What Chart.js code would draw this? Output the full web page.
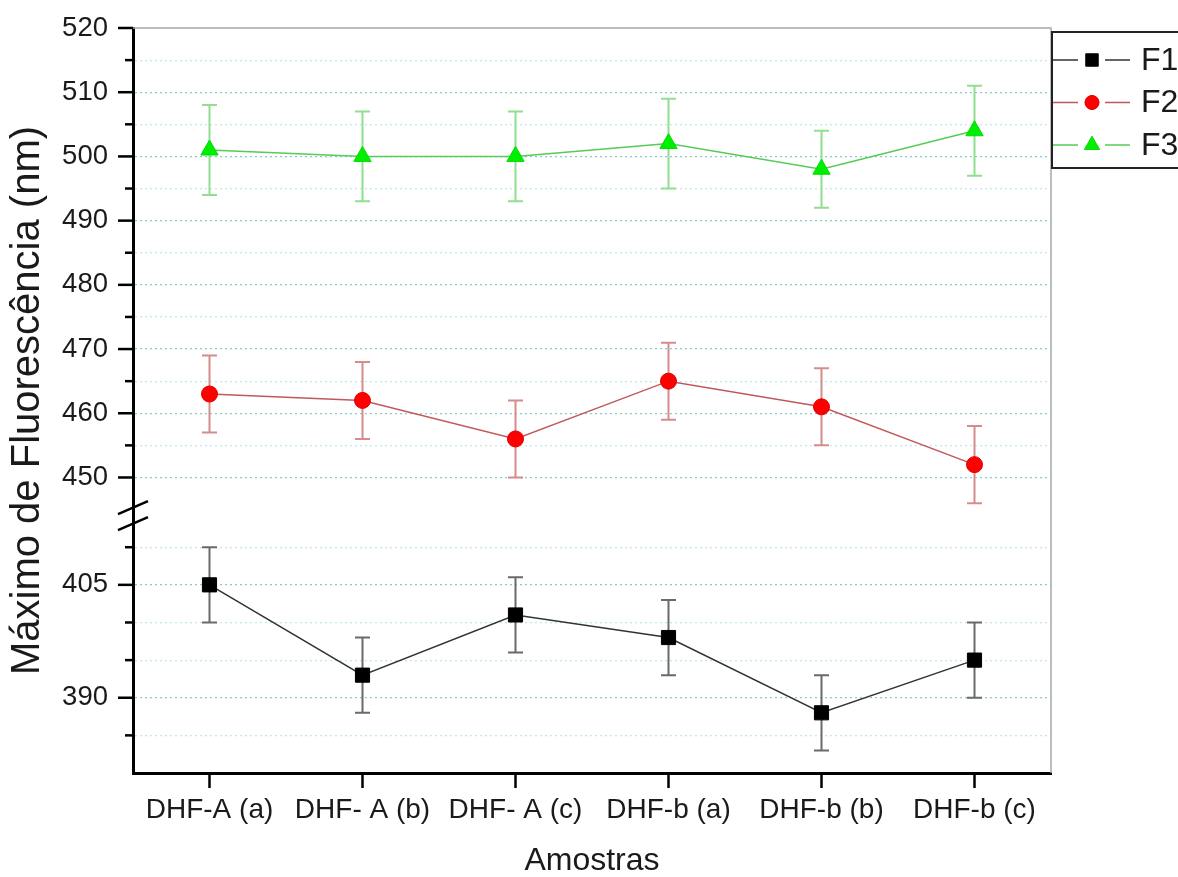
<!DOCTYPE html>
<html>
<head>
<meta charset="utf-8">
<title>Máximo de Fluorescência</title>
<script src="https://cdn.jsdelivr.net/npm/chart.js@4.4.1/dist/chart.umd.min.js"></script>
<style>
  html, body { margin: 0; padding: 0; background: #fff; }
  #wrap { width: 1178px; height: 877px; position: relative; }
</style>
</head>
<body>
<div id="wrap"><canvas id="fluorChart"></canvas></div>
<script>
const categories = ['DHF-A (a)', 'DHF- A (b)', 'DHF- A (c)', 'DHF-b (a)', 'DHF-b (b)', 'DHF-b (c)'];
const f1Values = [405, 393, 401, 398, 388, 395];
const f1Errors = [5, 5, 5, 5, 5, 5];
const f2Values = [463, 462, 456, 465, 461, 452];
const f2Errors = [6, 6, 6, 6, 6, 6];
const f3Values = [501, 500, 500, 502, 498, 504];
const f3Errors = [7, 7, 7, 7, 6, 7];

// broken y axis: two stacked segments
const upperRange = [445, 520];
const lowerRange = [380, 415];
const upperMajor = 10;
const lowerMajor = 15;

const FONT = "'Liberation Sans', Arial, sans-serif";
const INK = '#1a1a1a';

const segmentAxis = (range, major, weight) => ({
    type: 'linear',
    position: 'left',
    stack: 'y',
    stackWeight: weight,
    weight: 0,
    min: range[0],
    max: range[1],
    afterFit: (scale) => {
        scale.width = 81;
        // labels at the ends may overhang, the layout padding covers them
        scale.paddingTop = 0;
        scale.paddingBottom = 0;
    },
    border: { display: true, color: '#000', width: 3, dash: [2, 3] },
    grid: {
        drawTicks: false,
        lineWidth: 1.2,
        color: (ctx) => {
            const v = ctx.tick ? ctx.tick.value : range[0];
            if (v <= range[0] || v >= range[1]) return 'rgba(0,0,0,0)';
            return v % major === 0 ? '#8ccaca' : '#c2e8e8';
        }
    },
    ticks: {
        stepSize: 5,
        autoSkip: false,
        padding: 25,
        color: INK,
        font: { family: FONT, size: 27.5 },
        callback: (v) => (v % major === 0 && v > range[0]) ? v : ''
    }
});

// error bars, frame, y tick marks, axis break and legend
const decorations = {
    id: 'decorations',
    beforeDatasetsDraw(chart) {
        const { ctx } = chart;
        chart.data.datasets.forEach((ds, i) => {
            const meta = chart.getDatasetMeta(i);
            const yScale = chart.scales[ds.yAxisID];
            ctx.save();
            ctx.strokeStyle = ds.errorColor;
            ctx.lineWidth = 2;
            meta.data.forEach((pt, j) => {
                const hi = yScale.getPixelForValue(ds.data[j] + ds.errors[j]);
                const lo = yScale.getPixelForValue(ds.data[j] - ds.errors[j]);
                ctx.beginPath();
                ctx.moveTo(pt.x, hi); ctx.lineTo(pt.x, lo);
                ctx.moveTo(pt.x - 7.5, hi); ctx.lineTo(pt.x + 7.5, hi);
                ctx.moveTo(pt.x - 7.5, lo); ctx.lineTo(pt.x + 7.5, lo);
                ctx.stroke();
            });
            ctx.restore();
        });
    },
    afterDraw(chart) {
        const { ctx, chartArea: a } = chart;
        ctx.save();

        // thin frame on top and right
        ctx.strokeStyle = '#a8a8a8';
        ctx.lineWidth = 1.5;
        ctx.beginPath();
        ctx.moveTo(a.left, a.top); ctx.lineTo(a.right, a.top); ctx.lineTo(a.right, a.bottom);
        ctx.stroke();

        // y tick marks, long for labelled values
        ctx.strokeStyle = '#000';
        ctx.lineWidth = 2.5;
        [['yTop', upperRange, upperMajor], ['yBot', lowerRange, lowerMajor]].forEach(([id, range, major]) => {
            const s = chart.scales[id];
            s.ticks.forEach((t) => {
                const v = t.value;
                const isMajor = v % major === 0;
                if (v <= range[0] || (v >= range[1] && !isMajor)) return;
                const y = s.getPixelForValue(v);
                ctx.beginPath();
                ctx.moveTo(a.left - (isMajor ? 15 : 8), y);
                ctx.lineTo(a.left, y);
                ctx.stroke();
            });
        });

        // axis break marks
        const jy = chart.scales.yTop.bottom;
        ctx.lineWidth = 2.5;
        [jy - 2, jy + 14].forEach((cy) => {
            ctx.beginPath();
            ctx.moveTo(a.left - 15, cy + 6.5);
            ctx.lineTo(a.left + 15, cy - 6.5);
            ctx.stroke();
        });

        // legend box
        const bx = a.right + 1, by = 32;
        ctx.strokeStyle = '#222';
        ctx.lineWidth = 2;
        ctx.strokeRect(bx, by, 200, 136);
        chart.data.datasets.forEach((ds, i) => {
            const y = by + 28 + i * 42.5;
            ctx.strokeStyle = ds.borderColor;
            ctx.lineWidth = 1.5;
            ctx.beginPath();
            ctx.moveTo(bx + 1, y); ctx.lineTo(bx + 26, y);
            ctx.moveTo(bx + 53, y); ctx.lineTo(bx + 78, y);
            ctx.stroke();
            ctx.fillStyle = ds.pointBackgroundColor;
            ctx.strokeStyle = ds.pointBorderColor;
            ctx.lineWidth = 1;
            Chart.helpers.drawPoint(ctx, {
                pointStyle: ds.pointStyle, rotation: 0,
                radius: ds.pointRadius * 0.88, borderWidth: 1
            }, bx + 40, y);
            ctx.fillStyle = INK;
            ctx.font = `32px ${FONT}`;
            ctx.textBaseline = 'middle';
            ctx.textAlign = 'left';
            ctx.fillText(ds.label, bx + 89, y + 1);
        });
        ctx.restore();
    }
};

new Chart(document.getElementById('fluorChart'), {
    type: 'line',
    data: {
        labels: categories,
        datasets: [
            {
                label: 'F1', data: f1Values, errors: f1Errors, yAxisID: 'yBot',
                borderColor: '#333', borderWidth: 1.5, errorColor: '#6a6a6a',
                pointStyle: 'rect', pointRadius: 10, pointBorderWidth: 1,
                pointBackgroundColor: '#000', pointBorderColor: '#000'
            },
            {
                label: 'F2', data: f2Values, errors: f2Errors, yAxisID: 'yTop',
                borderColor: '#c05a5a', borderWidth: 1.5, errorColor: '#d68c8c',
                pointStyle: 'circle', pointRadius: 8, pointBorderWidth: 1,
                pointBackgroundColor: '#ff0000', pointBorderColor: '#e00000'
            },
            {
                label: 'F3', data: f3Values, errors: f3Errors, yAxisID: 'yTop',
                borderColor: '#55cc55', borderWidth: 1.5, errorColor: '#8fdf8f',
                pointStyle: 'triangle', pointRadius: 10, pointBorderWidth: 1,
                pointBackgroundColor: '#00ee00', pointBorderColor: '#00dd00'
            }
        ]
    },
    options: {
        responsive: true,
        maintainAspectRatio: false,
        animation: false,
        events: [],
        layout: { padding: { left: 0, top: 28, right: 127, bottom: 0 } },
        plugins: { legend: { display: false }, tooltip: { enabled: false } },
        scales: {
            x: {
                type: 'category',
                offset: true,
                afterFit: (scale) => { scale.height = 104; },
                border: { display: true, color: '#000', width: 3 },
                grid: {
                    offset: false, drawOnChartArea: false, drawTicks: true,
                    tickLength: 15, tickWidth: 2.5, tickColor: '#000'
                },
                ticks: {
                    padding: 5, color: INK, maxRotation: 0,
                    font: { family: FONT, size: 28 }
                },
                title: {
                    display: true, text: 'Amostras', color: INK,
                    padding: { top: 0, bottom: 0 },
                    font: { family: FONT, size: 32, lineHeight: 1 }
                }
            },
            yBot: segmentAxis(lowerRange, lowerMajor, 262),
            yTop: segmentAxis(upperRange, upperMajor, 479),
            yLabel: {
                type: 'linear',
                position: 'left',
                weight: 10,
                afterFit: (scale) => { scale.width = 52; },
                grid: { display: false, drawTicks: false },
                border: { display: false },
                ticks: { display: false },
                title: {
                    display: true, text: 'Máximo de Fluorescência (nm)', color: INK,
                    padding: { top: 8, bottom: 0 },
                    font: { family: FONT, size: 40, lineHeight: 1 }
                }
            }
        }
    },
    plugins: [decorations]
});
</script>
</body>
</html>
